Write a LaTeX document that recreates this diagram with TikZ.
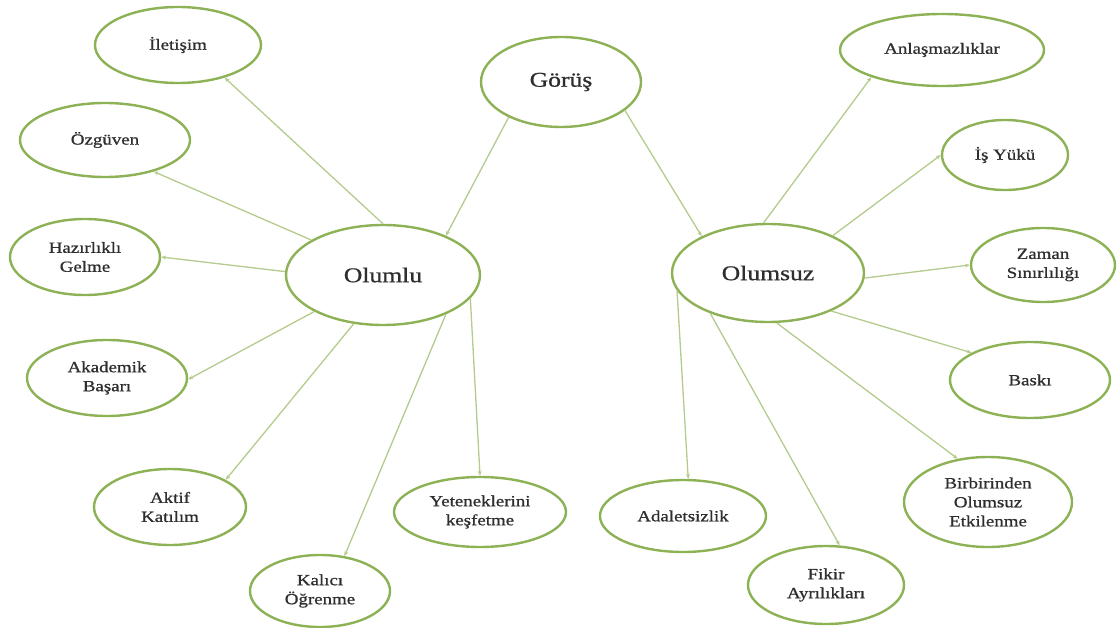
\documentclass[tikz,border=0pt]{standalone}
\usepackage{fontspec}
\setmainfont[FakeStretch=1.22,FakeBold=0.8]{Liberation Serif}
\usetikzlibrary{shapes.geometric,arrows.meta}
\definecolor{rimgreen}{HTML}{8DB255}
\definecolor{linkgreen}{HTML}{B4CB8E}
\definecolor{txt}{HTML}{2E2E2E}
\tikzset{
  bub/.style={ellipse, draw=rimgreen, line width=2.4pt, fill=white, inner sep=0pt,
    minimum width=2*#1, align=center, text=txt, font=\fontsize{15.5}{19}\selectfont},
  big/.style={font=\fontsize{21}{24}\selectfont},
  link/.style={draw=linkgreen, line width=1.3pt, -{Stealth[length=5pt,width=4pt]}}
}
\begin{document}
\begin{tikzpicture}[x=1pt,y=-1pt]
\useasboundingbox (0,0) rectangle (1118,628);
% main nodes
\node[bub=80pt, minimum height=90pt, big] (gorus) at (561,82) {Görüş};
\node[bub=97pt, minimum height=100pt, big] (olumlu) at (383,275) {Olumlu};
\node[bub=96pt, minimum height=98pt, big] (olumsuz) at (768,273) {Olumsuz};
% positive
\node[bub=83pt, minimum height=76pt] (iletisim) at (178,45) {İletişim};
\node[bub=85pt, minimum height=74pt] (ozguven) at (105,140) {Özgüven};
\node[bub=75pt, minimum height=76pt] (hazir) at (85,257) {Hazırlıklı\\Gelme};
\node[bub=80pt, minimum height=76pt] (akademik) at (107,378) {Akademik\\Başarı};
\node[bub=76pt, minimum height=76pt] (aktif) at (170,507) {Aktif\\Katılım};
\node[bub=70pt, minimum height=72pt] (kalici) at (320,591) {Kalıcı\\Öğrenme};
\node[bub=86pt, minimum height=70pt] (yetenek) at (480,512) {Yeteneklerini\\keşfetme};
% negative
\node[bub=83pt, minimum height=72pt] (adalet) at (683,516) {Adaletsizlik};
\node[bub=78pt, minimum height=78pt] (fikir) at (826,585) {Fikir\\Ayrılıkları};
\node[bub=102pt, minimum height=72pt] (anlasma) at (942,50) {Anlaşmazlıklar};
\node[bub=63pt, minimum height=70pt] (isyuku) at (1005,155) {İş Yükü};
\node[bub=72pt, minimum height=74pt] (zaman) at (1043,265) {Zaman\\Sınırlılığı};
\node[bub=80pt, minimum height=76pt] (baski) at (1030,380) {Baskı};
\node[bub=84pt, minimum height=90pt] (birbirinden) at (988,502) {Birbirinden\\Olumsuz\\Etkilenme};
% links
\draw[link] (gorus.214) -- (olumlu.32);
\draw[link] (gorus.336) -- (olumsuz.151);
\draw[link] (olumlu.90) -- (iletisim.325);
\draw[link] (olumlu.154) -- (ozguven.327);
\draw[link] (olumlu.178) -- (hazir.0);
\draw[link] (olumlu.208) -- (akademik.359);
\draw[link] (olumlu.239) -- (aktif.26);
\draw[link] (olumlu.328) -- (kalici.55);
\draw[link] (olumlu.345) -- (yetenek.90);
\draw[link] (olumsuz.95) -- (anlasma.201);
\draw[link] (olumsuz.30) -- (isyuku.180);
\draw[link] (olumsuz.357) -- (zaman.180);
\draw[link] (olumsuz.329) -- (baski.155);
\draw[link] (olumsuz.280) -- (birbirinden.125);
\draw[link] (olumsuz.215) -- (fikir.71);
\draw[link] (olumsuz.191) -- (adalet.82);
\end{tikzpicture}
\end{document}
